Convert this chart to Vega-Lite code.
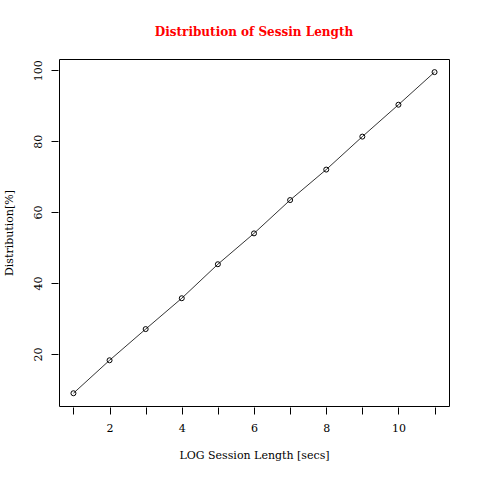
{
  "$schema": "https://vega.github.io/schema/vega-lite/v6.json",
  "autosize": "none",
  "width": 390,
  "height": 347,
  "padding": {"left": 59, "top": 59, "right": 31, "bottom": 74},
  "background": "white",
  "title": {
    "text": "Distribution of Sessin Length",
    "color": "red",
    "font": "DejaVu Serif",
    "fontSize": 12,
    "fontWeight": "bold",
    "anchor": "middle",
    "offset": 20
  },
  "config": {
    "view": {"stroke": "black", "strokeWidth": 1},
    "axis": {
      "grid": false,
      "domain": false,
      "tickColor": "black",
      "tickSize": 7,
      "tickWidth": 1,
      "labelFont": "DejaVu Serif",
      "labelFontSize": 11,
      "labelColor": "black",
      "titleFont": "DejaVu Serif",
      "titleFontSize": 11,
      "titleFontWeight": "normal",
      "titleColor": "black"
    }
  },
  "data": {
    "values": [
      {"x": 1, "y": 8.9},
      {"x": 2, "y": 18.2},
      {"x": 3, "y": 27.0},
      {"x": 4, "y": 35.7},
      {"x": 5, "y": 45.3},
      {"x": 6, "y": 54.0},
      {"x": 7, "y": 63.4},
      {"x": 8, "y": 72.0},
      {"x": 9, "y": 81.3},
      {"x": 10, "y": 90.3},
      {"x": 11, "y": 99.5}
    ]
  },
  "encoding": {
    "x": {
      "field": "x",
      "type": "quantitative",
      "scale": {"domain": [0.6, 11.4], "nice": false, "zero": false},
      "axis": {
        "title": "LOG Session Length [secs]",
        "values": [1, 2, 3, 4, 5, 6, 7, 8, 9, 10, 11],
        "labelExpr": "datum.value % 2 == 0 ? datum.label : ''",
        "labelPadding": 8,
        "titlePadding": 16,
        "offset": 1
      }
    },
    "y": {
      "field": "y",
      "type": "quantitative",
      "scale": {"domain": [5.3, 103.2], "nice": false, "zero": false},
      "axis": {
        "title": "Distribution[%]",
        "values": [20, 40, 60, 80, 100],
        "labelAngle": -90,
        "labelAlign": "center",
        "labelBaseline": "bottom",
        "labelPadding": 8,
        "titlePadding": 18,
        "offset": 1
      }
    }
  },
  "layer": [
    {"mark": {"type": "line", "color": "black", "strokeWidth": 0.8}},
    {"mark": {"type": "point", "shape": "circle", "size": 25, "color": "black", "strokeWidth": 1, "filled": false, "opacity": 1}}
  ]
}
